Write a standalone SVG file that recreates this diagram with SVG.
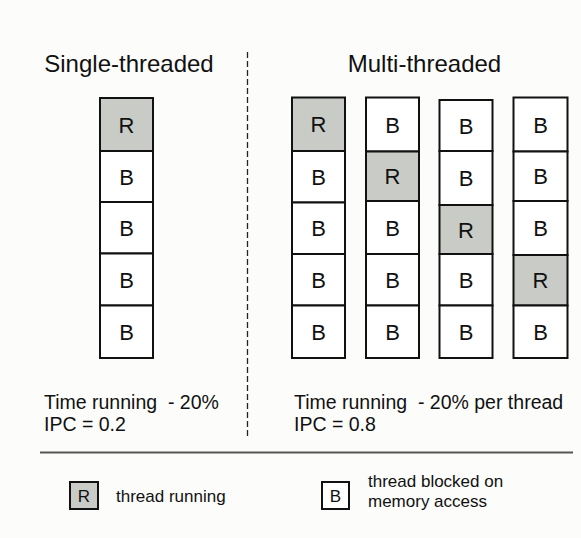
<svg xmlns="http://www.w3.org/2000/svg" width="581" height="538" viewBox="0 0 581 538">
  <style>
    text { font-family: "Liberation Sans", Arial, sans-serif; fill: #111; }
    .title { font-size: 24px; text-anchor: middle; }
    .cell rect { stroke: #111; stroke-width: 2; }
    .cell text { font-size: 22px; text-anchor: middle; }
    .run rect { fill: #c9cbc6; }
    .blk rect { fill: #ffffff; }
    .stat { font-size: 19.5px; }
    .legend { font-size: 17px; }
    .key rect { stroke: #111; stroke-width: 2; }
    .key text { font-size: 17px; text-anchor: middle; }
  </style>

  <rect x="0" y="0" width="581" height="538" fill="#fcfcfa"/>

  <!-- headings -->
  <text class="title" x="129" y="72">Single-threaded</text>
  <text class="title" x="424.5" y="72">Multi-threaded</text>

  <!-- single-threaded timeline -->
  <g id="single">
    <g id="st-1" class="cell run"><rect x="100" y="98" width="53" height="53"/><text x="126.5" y="132.5">R</text></g>
    <g id="st-2" class="cell blk"><rect x="100" y="151" width="53" height="51"/><text x="126.5" y="184.5">B</text></g>
    <g id="st-3" class="cell blk"><rect x="100" y="202" width="53" height="51.5"/><text x="126.5" y="235.8">B</text></g>
    <g id="st-4" class="cell blk"><rect x="100" y="253.5" width="53" height="52"/><text x="126.5" y="287.5">B</text></g>
    <g id="st-5" class="cell blk"><rect x="100" y="305.5" width="53" height="52.5"/><text x="126.5" y="339.8">B</text></g>
  </g>

  <!-- multi-threaded: thread 1 -->
  <g id="thread-1">
    <g id="t1-1" class="cell run"><rect x="292" y="97.5" width="53" height="53.5"/><text x="318.5" y="132.3">R</text></g>
    <g id="t1-2" class="cell blk"><rect x="292" y="151" width="53" height="51.5"/><text x="318.5" y="184.8">B</text></g>
    <g id="t1-3" class="cell blk"><rect x="292" y="202.5" width="53" height="51.5"/><text x="318.5" y="236.3">B</text></g>
    <g id="t1-4" class="cell blk"><rect x="292" y="254" width="53" height="51.5"/><text x="318.5" y="287.8">B</text></g>
    <g id="t1-5" class="cell blk"><rect x="292" y="305.5" width="53" height="52.5"/><text x="318.5" y="339.8">B</text></g>
  </g>

  <!-- multi-threaded: thread 2 -->
  <g id="thread-2">
    <g id="t2-1" class="cell blk"><rect x="366" y="97.5" width="53" height="54"/><text x="392.5" y="132.5">B</text></g>
    <g id="t2-2" class="cell run"><rect x="366" y="151.5" width="53" height="49.5"/><text x="392.5" y="184.3">R</text></g>
    <g id="t2-3" class="cell blk"><rect x="366" y="201" width="53" height="53"/><text x="392.5" y="235.5">B</text></g>
    <g id="t2-4" class="cell blk"><rect x="366" y="254" width="53" height="51.5"/><text x="392.5" y="287.8">B</text></g>
    <g id="t2-5" class="cell blk"><rect x="366" y="305.5" width="53" height="52.5"/><text x="392.5" y="339.8">B</text></g>
  </g>

  <!-- multi-threaded: thread 3 -->
  <g id="thread-3">
    <g id="t3-1" class="cell blk"><rect x="439.5" y="100" width="53" height="51"/><text x="466" y="133.5">B</text></g>
    <g id="t3-2" class="cell blk"><rect x="439.5" y="151" width="53" height="54"/><text x="466" y="186">B</text></g>
    <g id="t3-3" class="cell run"><rect x="439.5" y="205" width="53" height="49"/><text x="466" y="237.5">R</text></g>
    <g id="t3-4" class="cell blk"><rect x="439.5" y="254" width="53" height="51.5"/><text x="466" y="287.8">B</text></g>
    <g id="t3-5" class="cell blk"><rect x="439.5" y="305.5" width="53" height="52.5"/><text x="466" y="339.8">B</text></g>
  </g>

  <!-- multi-threaded: thread 4 -->
  <g id="thread-4">
    <g id="t4-1" class="cell blk"><rect x="513.5" y="97.5" width="54" height="54"/><text x="540.5" y="132.5">B</text></g>
    <g id="t4-2" class="cell blk"><rect x="513.5" y="151.5" width="54" height="49.5"/><text x="540.5" y="184.3">B</text></g>
    <g id="t4-3" class="cell blk"><rect x="513.5" y="201" width="54" height="54"/><text x="540.5" y="236">B</text></g>
    <g id="t4-4" class="cell run"><rect x="513.5" y="255" width="54" height="50.5"/><text x="540.5" y="288.3">R</text></g>
    <g id="t4-5" class="cell blk"><rect x="513.5" y="305.5" width="54" height="52.5"/><text x="540.5" y="339.8">B</text></g>
  </g>

  <!-- statistics -->
  <g id="stats-single">
    <text class="stat" x="44" y="409" xml:space="preserve">Time running  - 20%</text>
    <text class="stat" x="44" y="431">IPC = 0.2</text>
  </g>
  <g id="stats-multi">
    <text class="stat" x="294" y="409" xml:space="preserve">Time running  - 20% per thread</text>
    <text class="stat" x="294" y="431">IPC = 0.8</text>
  </g>

  <!-- dividers -->
  <g id="dividers">
    <line x1="247.5" y1="52" x2="247.5" y2="438" stroke="#222" stroke-width="1.3" stroke-dasharray="6 3"/>
    <line x1="40" y1="452.5" x2="573" y2="452.5" stroke="#555" stroke-width="2"/>
  </g>

  <!-- legend -->
  <g id="legend-running" class="key">
    <rect x="70" y="482" width="28" height="27" fill="#c9cbc6"/>
    <text x="84" y="501.5">R</text>
    <text class="legend" x="116" y="502" style="text-anchor:start">thread running</text>
  </g>
  <g id="legend-blocked" class="key">
    <rect x="322" y="482" width="27" height="27" fill="#ffffff"/>
    <text x="335.5" y="501.5">B</text>
    <text class="legend" x="368" y="487" style="text-anchor:start">thread blocked on</text>
    <text class="legend" x="368" y="507" style="text-anchor:start">memory access</text>
  </g>
</svg>
